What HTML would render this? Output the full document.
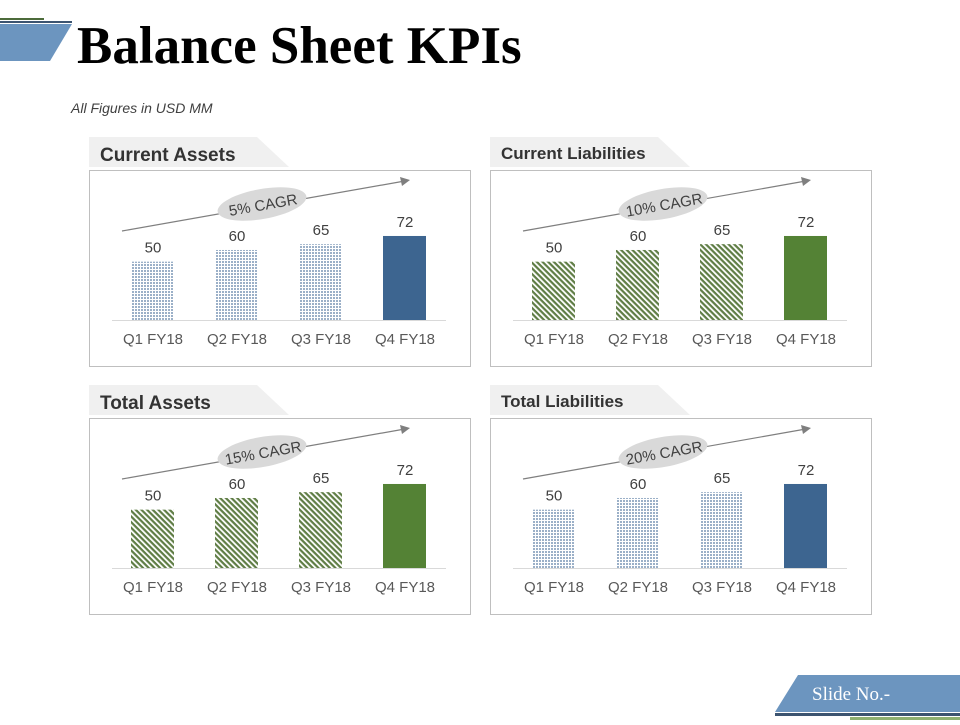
<!DOCTYPE html>
<html><head><meta charset="utf-8"><style>
body{margin:0;width:960px;height:720px;background:#fff;overflow:hidden;font-family:"Liberation Sans",sans-serif}
</style></head><body>
<svg width="960" height="720" xmlns="http://www.w3.org/2000/svg">
<defs>
<pattern id="dots" width="3" height="3" patternUnits="userSpaceOnUse"><rect width="3" height="3" fill="#fff"/><rect width="2" height="2" fill="#9bb0c8"/></pattern>
<pattern id="stripes" width="4" height="4" patternUnits="userSpaceOnUse" patternTransform="rotate(45)"><rect width="4" height="4" fill="#fff"/><rect width="4" height="2.2" fill="#5f7d45"/></pattern>
</defs>
<g>
<rect x="0" y="18" width="44" height="2" fill="#4c6b3a"/>
<rect x="0" y="21" width="72" height="2" fill="#3c5470"/>
<polygon points="0,24 72,24 50,61 0,61" fill="#6c95bf"/>
</g>
<text x="77" y="63" font-family="Liberation Serif,serif" font-weight="bold" font-size="53" fill="#000">Balance Sheet KPIs</text>
<text x="71" y="113" font-style="italic" font-size="14" fill="#404040">All Figures in USD MM</text>
<g id="panels"></g>
<g>
<polygon points="798,675 960,675 960,712 775,712" fill="#6c95bf"/>
<rect x="775" y="713" width="185" height="3" fill="#3c5470"/>
<rect x="850" y="717" width="110" height="3" fill="#8fb070"/>
<text x="812" y="700" font-family="Liberation Serif,serif" font-size="19" fill="#fff">Slide No.-</text>
</g>
</svg>
<script>
const categories=["Q1 FY18","Q2 FY18","Q3 FY18","Q4 FY18"];
const currentAssets=[50,60,65,72];
const currentLiabilities=[50,60,65,72];
const totalAssets=[50,60,65,72];
const totalLiabilities=[50,60,65,72];
const titles=["Current Assets","Current Liabilities","Total Assets","Total Liabilities"];
const cagrLabels=["5% CAGR","10% CAGR","15% CAGR","20% CAGR"];
const seriesList=[currentAssets,currentLiabilities,totalAssets,totalLiabilities];
const NS="http://www.w3.org/2000/svg";
const root=document.getElementById('panels');
function mk(tag,attrs,parent){const e=document.createElementNS(NS,tag);for(const k in attrs)e.setAttribute(k,attrs[k]);parent.appendChild(e);return e;}
const cfg=[{ox:0,oy:0,fill:'url(#dots)',last:'#3d6590',tsize:19},{ox:401,oy:0,fill:'url(#stripes)',last:'#548235',tsize:17},{ox:0,oy:248,fill:'url(#stripes)',last:'#548235',tsize:19},{ox:401,oy:248,fill:'url(#dots)',last:'#3d6590',tsize:17}];
const yScale=v=>320-v*1.167;
const xCenter=i=>153+i*84;
seriesList.forEach((vals,p)=>{
 const c=cfg[p];
 const g=mk('g',{transform:`translate(${c.ox},${c.oy})`},root);
 
 
 const tab=mk('polygon',{points:'89,137 257,137 289,167 89,167',fill:'#f0f0f0'},g);
 
 
 const t=mk('text',{x:100,y:p%2?159:161,'font-size':c.tsize,'font-weight':'bold',fill:'#333'},g);
 t.textContent=titles[p];
 
 
 const box=mk('rect',{x:89.5,y:170.5,width:381,height:196,fill:'none',stroke:'#bfbfbf'},g);
 
 
 const base=mk('line',{x1:112,y1:320.5,x2:446,y2:320.5,stroke:'#d9d9d9'},g);
 
 
 vals.forEach((v,i)=>{
  const x=xCenter(i);
  const b=mk('rect',{x:x-22,y:yScale(v),width:43,height:320-yScale(v),fill:i===3?c.last:c.fill},g);
  
  
  const l=mk('text',{x:x,y:yScale(v)-9,'text-anchor':'middle','font-size':15,fill:'#404040'},g);
  l.textContent=v;
  
  
  const cl=mk('text',{x:x,y:344,'text-anchor':'middle','font-size':15,fill:'#595959'},g);
  cl.textContent=categories[i];
  
  
 });
 const ar=mk('g',{},g);
 
 
 mk('line',{x1:122,y1:231,x2:402,y2:181.5,stroke:'#7f7f7f','stroke-width':1.2},ar);
 mk('polygon',{points:'410,180 400,177 402,186',fill:'#7f7f7f'},ar);
 mk('ellipse',{cx:262,cy:204,rx:45,ry:15,fill:'#d9d9d9',transform:'rotate(-10 262 204)'},ar);
 const ct=mk('text',{x:264,y:210,'text-anchor':'middle','font-size':15,fill:'#404040',transform:'rotate(-10 264 210)'},ar);
 ct.textContent=cagrLabels[p];
 
 
});
</script>
</body></html>
